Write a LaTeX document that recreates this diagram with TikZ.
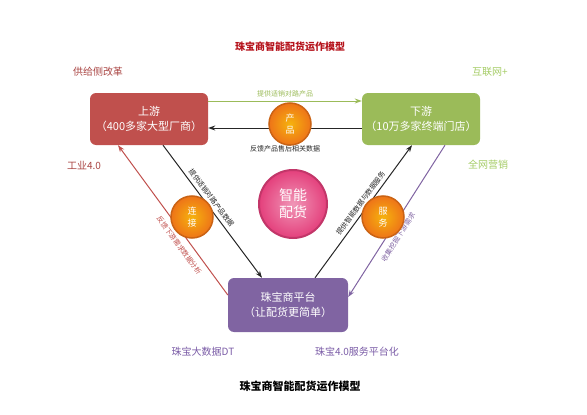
\documentclass[tikz,border=0pt]{standalone}
\usepackage{fontspec}
\setmainfont{Noto Sans CJK SC}
\usepackage{tikz}
\usetikzlibrary{arrows.meta,positioning}

\definecolor{upred}{HTML}{C0504D}
\definecolor{downgreen}{HTML}{9BBB59}
\definecolor{platpurple}{HTML}{8064A2}
\definecolor{titlered}{HTML}{B5121B}
\definecolor{sidered}{HTML}{A94442}
\definecolor{sidegreen}{HTML}{A5CC66}
\definecolor{sidepurple}{HTML}{7A5BA6}
\definecolor{ballorange}{HTML}{EE7418}
\definecolor{ballpink}{HTML}{E4407C}

\begin{document}
\begin{tikzpicture}[x=1pt,y=-1pt,
    stagebox/.style={rounded corners=6pt,minimum width=118pt,minimum height=52pt,
      text=white,align=center,font=\fontsize{11}{15}\selectfont},
    orangeball/.style={circle,minimum size=42pt,inner sep=0pt,draw=ballorange!85!black,
      line width=1.5pt,inner color=ballorange!55!yellow,outer color=ballorange,
      text=white,align=center,font=\fontsize{9}{12}\selectfont},
    sidelabel/.style={font=\fontsize{10}{12}\selectfont},
    tinylabel/.style={font=\fontsize{7}{8}\selectfont,inner sep=1.5pt},
    flow/.style={line width=1pt,-{Stealth[length=7pt,width=5pt]}}]
    \useasboundingbox (0,0) rectangle (587,415);

    % Title and caption
    \node[text=titlered,font=\fontsize{10}{12}\selectfont\bfseries] (title) at (290,47) {珠宝商智能配货运作模型};
    \node[font=\fontsize{11}{13}\selectfont\bfseries] (caption) at (300,386) {珠宝商智能配货运作模型};

    % Three stages
    \node[stagebox,fill=upred] (up) at (149,119) {上游\\（400多家大型厂商）};
    \node[stagebox,fill=downgreen] (down) at (421,119) {下游\\（10万多家终端门店）};
    \node[stagebox,fill=platpurple,minimum width=120pt,minimum height=54pt] (plat) at (288,305) {珠宝商平台\\（让配货更简单）};

    % Side labels
    \node[sidelabel,text=sidered] (supply) at (98,72) {供给侧改革};
    \node[sidelabel,text=sidegreen] (internet) at (490,72) {互联网+};
    \node[sidelabel,text=sidered] (industry) at (84,165) {工业4.0};
    \node[sidelabel,text=sidegreen] (network) at (488,165) {全网营销};
    \node[sidelabel,text=sidepurple] (bigdata) at (203,352) {珠宝大数据DT};
    \node[sidelabel,text=sidepurple] (service) at (357,352) {珠宝4.0服务平台化};

    % Edges
    \draw[flow,downgreen] ([yshift=18pt]up.east) -- node[tinylabel,above=2pt,text=downgreen] {提供适销对路产品} ([yshift=18pt]down.west);
    \draw[flow,black!85] ([yshift=-9pt]down.west) -- node[tinylabel,below=16pt] {反馈产品售后相关数据} ([yshift=-9pt]up.west -| up.east);
    \draw[flow,black!85] ([xshift=14pt]up.south) -- node[tinylabel,sloped,above=2pt,pos=0.43] {提供适销对路产品数据} ([xshift=-26pt]plat.north);
    \draw[flow,black!85] ([xshift=27pt]plat.north) -- node[tinylabel,sloped,above=2pt,pos=0.53] {提供智能数据与数据服务} ([xshift=-9pt]down.south);
    \draw[flow,upred] ([yshift=10pt]plat.west) -- ([xshift=-31pt]up.south);
    \path ([xshift=-31pt]up.south) -- node[tinylabel,sloped,below=5pt,pos=0.63,text=upred] {反馈下游需求数据分析} ([yshift=10pt]plat.west);
    \draw[flow,platpurple] ([xshift=24pt]down.south) -- ([yshift=8pt]plat.east);
    \path ([yshift=8pt]plat.east) -- node[tinylabel,sloped,below=5pt,pos=0.43,text=platpurple] {收集挖掘下游需求} ([xshift=24pt]down.south);

    % Balls
    \node[orangeball] (product) at (290,124) {产\\品};
    \node[orangeball] (link) at (192,217) {连\\接};
    \node[orangeball] (serve) at (383,217) {服\\务};
    \node[circle,minimum size=68pt,inner sep=0pt,draw=ballpink!85!black,line width=2pt,
      inner color=ballpink!55!white,outer color=ballpink,text=white,align=center,
      font=\fontsize{14}{17}\selectfont] (smart) at (293,204) {智能\\配货};
\end{tikzpicture}
\end{document}
